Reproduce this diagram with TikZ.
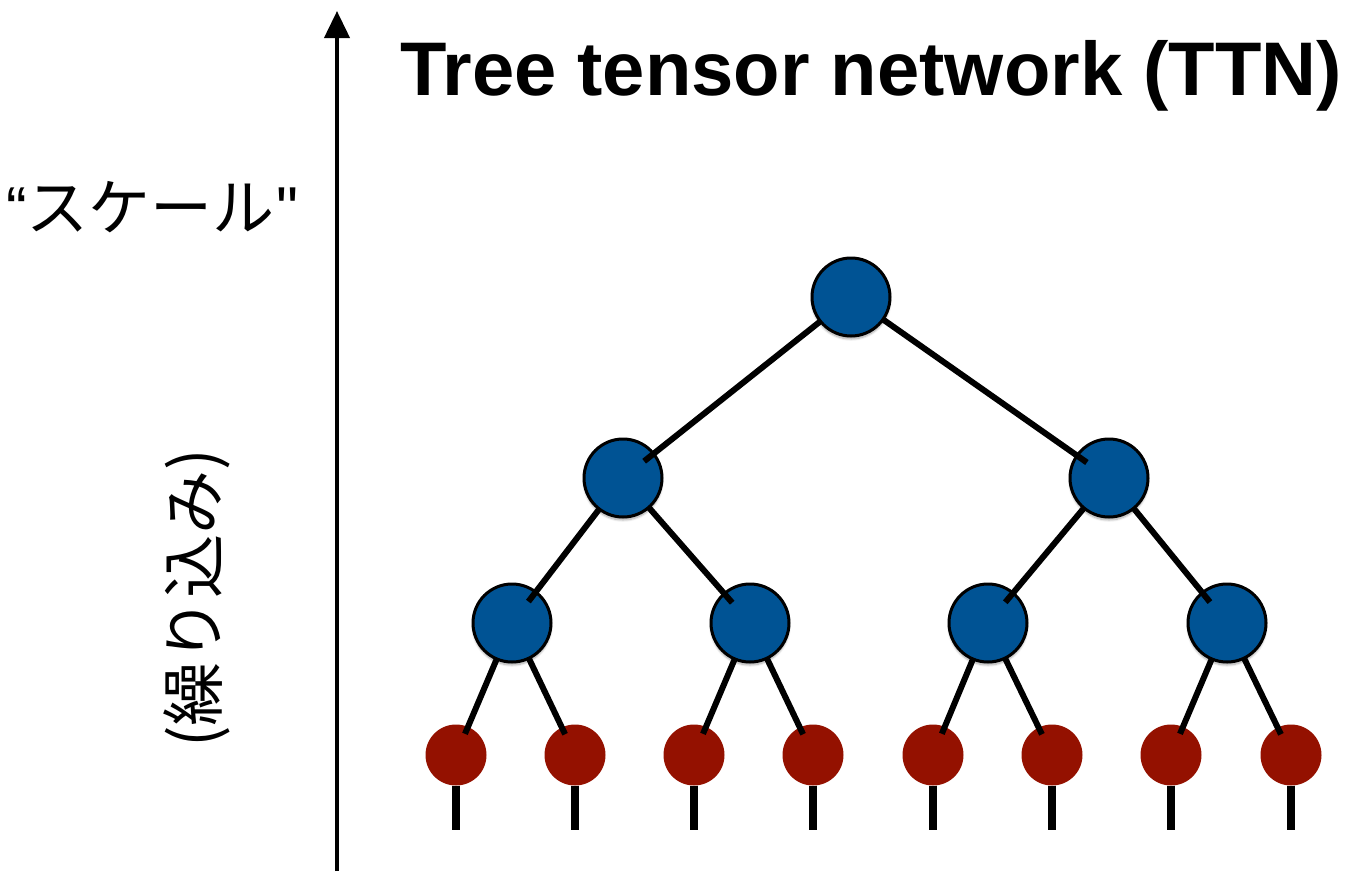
\documentclass[tikz,border=0pt]{standalone}
\usepackage{fontspec}
\setmainfont{Liberation Sans}
\newfontfamily\qfont{Liberation Sans}[Ligatures=TeXOff]
\newfontfamily\cjk{Noto Sans CJK JP}
\usetikzlibrary{arrows.meta,calc,shadows.blur}
\definecolor{tblue}{RGB}{0,83,148}
\definecolor{tred}{RGB}{148,17,0}
\begin{document}
\begin{tikzpicture}[x=1pt,y=-1pt,
  bluenode/.style={circle,draw=black,line width=3pt,fill=tblue,minimum size=78pt,inner sep=0pt,
    blur shadow={shadow xshift=0pt,shadow yshift=-3pt,shadow blur steps=8,shadow opacity=35}},
  rednode/.style={circle,fill=tred,minimum size=61pt,inner sep=0pt},
  edgeline/.style={line width=6pt},
  legline/.style={line width=8pt}]
\useasboundingbox (0,0) rectangle (1353,871);
% axis
\coordinate (ab) at (337,871);
\coordinate (at) at (337,11);
\draw[line width=4pt,-{Triangle[length=27pt,width=25pt]}] (ab) -- (at);
% texts
\node[anchor=base west,font=\bfseries\fontsize{76}{76}\selectfont,inner sep=0pt] (title) at (400,95) {Tree tensor network (TTN)};
\node[anchor=west,inner sep=0pt,font=\fontsize{62}{62}\selectfont] (scale) at (6,207) {“{\cjk スケール}\kern2pt{\qfont"}};
\node[rotate=90,inner sep=0pt,font=\cjk\fontsize{64}{64}\selectfont] (renorm) at (197,598) {(繰り込み)};
% nodes
\node[bluenode] (n1) at (851,297) {};
\node[bluenode] (n2) at (623,478) {};
\node[bluenode] (n3) at (1109,478) {};
\node[bluenode] (n4) at (512,623) {};
\node[bluenode] (n5) at (750,623) {};
\node[bluenode] (n6) at (988,623) {};
\node[bluenode] (n7) at (1227,623) {};
\foreach \i/\x in {1/456,2/575,3/694,4/813,5/933,6/1052,7/1171,8/1291}{
  \node[rednode] (l\i) at (\x,755) {};
  \coordinate (f\i) at (\x,830);
  \draw[legline] (l\i.south) -- (f\i);
}
% edges
\foreach \p/\c in {n1/n2,n1/n3,n2/n4,n2/n5,n3/n6,n3/n7}{
  \draw[edgeline] ($(\p)!40pt!(\c)$) -- ($(\c)!27pt!(\p)$);
}
\foreach \p/\c in {n4/l1,n4/l2,n5/l3,n5/l4,n6/l5,n6/l6,n7/l7,n7/l8}{
  \draw[edgeline] ($(\p)!40pt!(\c)$) -- ($(\c)!23pt!(\p)$);
}
\end{tikzpicture}
\end{document}
